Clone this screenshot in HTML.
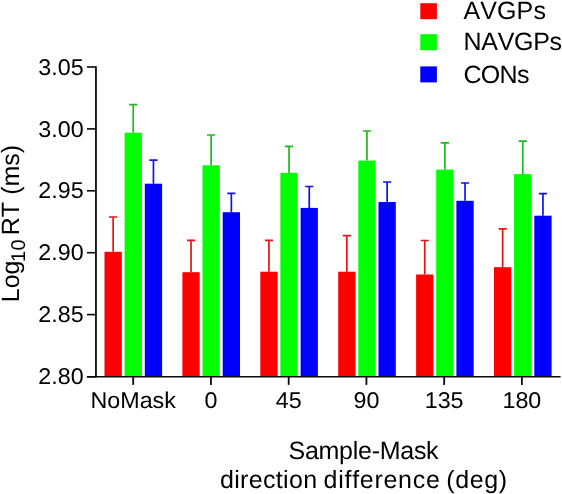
<!DOCTYPE html>
<html><head><meta charset="utf-8"><title>chart</title>
<style>
html,body{margin:0;padding:0;background:#fff;}
body{width:562px;height:494px;overflow:hidden;}
svg{display:block;will-change:transform;}
text{text-rendering:geometricPrecision;font-kerning:none;font-family:"Liberation Sans",sans-serif;fill:#000;}
</style></head><body>
<svg width="562" height="494" viewBox="0 0 562 494">
<rect width="562" height="494" fill="#fff"/>

<rect x="104.50" y="251.80" width="17.3" height="124.70" fill="#ff0000"/>
<path d="M113.15 251.80V217.00M109.05 217.00H117.25" stroke="#ec1216" stroke-width="1.7" fill="none"/>
<rect x="124.60" y="132.70" width="17.3" height="243.80" fill="#00ff00"/>
<path d="M133.25 132.70V104.60M129.15 104.60H137.35" stroke="#20b820" stroke-width="1.7" fill="none"/>
<rect x="144.80" y="183.70" width="17.3" height="192.80" fill="#0000ff"/>
<path d="M153.45 183.70V160.10M149.35 160.10H157.55" stroke="#1212e4" stroke-width="1.7" fill="none"/>
<rect x="182.40" y="272.20" width="17.3" height="104.30" fill="#ff0000"/>
<path d="M191.05 272.20V240.30M186.95 240.30H195.15" stroke="#ec1216" stroke-width="1.7" fill="none"/>
<rect x="202.50" y="165.30" width="17.3" height="211.20" fill="#00ff00"/>
<path d="M211.15 165.30V135.00M207.05 135.00H215.25" stroke="#20b820" stroke-width="1.7" fill="none"/>
<rect x="222.70" y="212.20" width="17.3" height="164.30" fill="#0000ff"/>
<path d="M231.35 212.20V193.30M227.25 193.30H235.45" stroke="#1212e4" stroke-width="1.7" fill="none"/>
<rect x="260.30" y="271.70" width="17.3" height="104.80" fill="#ff0000"/>
<path d="M268.95 271.70V240.40M264.85 240.40H273.05" stroke="#ec1216" stroke-width="1.7" fill="none"/>
<rect x="280.40" y="172.90" width="17.3" height="203.60" fill="#00ff00"/>
<path d="M289.05 172.90V146.40M284.95 146.40H293.15" stroke="#20b820" stroke-width="1.7" fill="none"/>
<rect x="300.60" y="207.90" width="17.3" height="168.60" fill="#0000ff"/>
<path d="M309.25 207.90V186.50M305.15 186.50H313.35" stroke="#1212e4" stroke-width="1.7" fill="none"/>
<rect x="338.20" y="271.70" width="17.3" height="104.80" fill="#ff0000"/>
<path d="M346.85 271.70V235.70M342.75 235.70H350.95" stroke="#ec1216" stroke-width="1.7" fill="none"/>
<rect x="358.30" y="160.60" width="17.3" height="215.90" fill="#00ff00"/>
<path d="M366.95 160.60V131.00M362.85 131.00H371.05" stroke="#20b820" stroke-width="1.7" fill="none"/>
<rect x="378.50" y="202.00" width="17.3" height="174.50" fill="#0000ff"/>
<path d="M387.15 202.00V182.00M383.05 182.00H391.25" stroke="#1212e4" stroke-width="1.7" fill="none"/>
<rect x="416.10" y="274.50" width="17.3" height="102.00" fill="#ff0000"/>
<path d="M424.75 274.50V240.50M420.65 240.50H428.85" stroke="#ec1216" stroke-width="1.7" fill="none"/>
<rect x="436.20" y="169.60" width="17.3" height="206.90" fill="#00ff00"/>
<path d="M444.85 169.60V142.90M440.75 142.90H448.95" stroke="#20b820" stroke-width="1.7" fill="none"/>
<rect x="456.40" y="200.80" width="17.3" height="175.70" fill="#0000ff"/>
<path d="M465.05 200.80V183.00M460.95 183.00H469.15" stroke="#1212e4" stroke-width="1.7" fill="none"/>
<rect x="494.00" y="267.20" width="17.3" height="109.30" fill="#ff0000"/>
<path d="M502.65 267.20V228.90M498.55 228.90H506.75" stroke="#ec1216" stroke-width="1.7" fill="none"/>
<rect x="514.10" y="174.10" width="17.3" height="202.40" fill="#00ff00"/>
<path d="M522.75 174.10V141.20M518.65 141.20H526.85" stroke="#20b820" stroke-width="1.7" fill="none"/>
<rect x="534.30" y="215.70" width="17.3" height="160.80" fill="#0000ff"/>
<path d="M542.95 215.70V193.70M538.85 193.70H547.05" stroke="#1212e4" stroke-width="1.7" fill="none"/>
<path d="M95.95 66.2V377.5" stroke="#0a0a0a" stroke-width="1.8" fill="none"/>
<path d="M86.9 376.8H560.6" stroke="#0a0a0a" stroke-width="1.6" fill="none"/>
<path d="M86.9 67.00H95.95" stroke="#0a0a0a" stroke-width="1.6"/>
<text x="83.6" y="75.00" font-size="22.8" text-anchor="end" textLength="45.34" lengthAdjust="spacingAndGlyphs">3.05</text>
<path d="M86.9 128.90H95.95" stroke="#0a0a0a" stroke-width="1.6"/>
<text x="83.6" y="136.70" font-size="22.8" text-anchor="end" textLength="45.34" lengthAdjust="spacingAndGlyphs">3.00</text>
<path d="M86.9 190.80H95.95" stroke="#0a0a0a" stroke-width="1.6"/>
<text x="83.6" y="198.40" font-size="22.8" text-anchor="end" textLength="45.34" lengthAdjust="spacingAndGlyphs">2.95</text>
<path d="M86.9 252.70H95.95" stroke="#0a0a0a" stroke-width="1.6"/>
<text x="83.6" y="260.10" font-size="22.8" text-anchor="end" textLength="45.34" lengthAdjust="spacingAndGlyphs">2.90</text>
<path d="M86.9 314.60H95.95" stroke="#0a0a0a" stroke-width="1.6"/>
<text x="83.6" y="321.80" font-size="22.8" text-anchor="end" textLength="45.34" lengthAdjust="spacingAndGlyphs">2.85</text>
<path d="M86.9 376.80H95.95" stroke="#0a0a0a" stroke-width="1.6"/>
<text x="83.6" y="383.50" font-size="22.8" text-anchor="end" textLength="45.34" lengthAdjust="spacingAndGlyphs">2.80</text>
<path d="M133.20 376.5V384.9" stroke="#0a0a0a" stroke-width="1.8"/>
<text x="133.20" y="408.2" font-size="22.8" text-anchor="middle" textLength="85.44" lengthAdjust="spacingAndGlyphs">NoMask</text>
<path d="M210.94 376.5V384.9" stroke="#0a0a0a" stroke-width="1.8"/>
<text x="210.94" y="408.2" font-size="22.8" text-anchor="middle" textLength="12.95" lengthAdjust="spacingAndGlyphs">0</text>
<path d="M288.68 376.5V384.9" stroke="#0a0a0a" stroke-width="1.8"/>
<text x="288.68" y="408.2" font-size="22.8" text-anchor="middle" textLength="25.91" lengthAdjust="spacingAndGlyphs">45</text>
<path d="M366.42 376.5V384.9" stroke="#0a0a0a" stroke-width="1.8"/>
<text x="366.42" y="408.2" font-size="22.8" text-anchor="middle" textLength="25.91" lengthAdjust="spacingAndGlyphs">90</text>
<path d="M444.16 376.5V384.9" stroke="#0a0a0a" stroke-width="1.8"/>
<text x="444.16" y="408.2" font-size="22.8" text-anchor="middle" textLength="38.86" lengthAdjust="spacingAndGlyphs">135</text>
<path d="M521.90 376.5V384.9" stroke="#0a0a0a" stroke-width="1.8"/>
<text x="521.90" y="408.2" font-size="22.8" text-anchor="middle" textLength="38.86" lengthAdjust="spacingAndGlyphs">180</text>
<text x="288.5" y="458.6" font-size="25" letter-spacing="-0.27">Sample-Mask</text>
<text x="220" y="487.8" font-size="25" letter-spacing="0.32">direction</text>
<text x="323.6" y="487.8" font-size="25" letter-spacing="0.72">difference</text>
<text x="446.3" y="487.8" font-size="25" letter-spacing="0.6">(deg)</text>
<text transform="translate(18.6 302.2) rotate(-90)" font-size="25"><tspan x="0" y="0">Log</tspan><tspan x="40.2" y="6.4" font-size="20">1</tspan><tspan x="51.8" y="6.4" font-size="20">0</tspan><tspan x="67" y="0">RT</tspan><tspan x="107.4" y="0">(ms)</tspan></text>
<rect x="420.3" y="3.2" width="16.6" height="16" fill="#ff0000"/>
<text x="463.5" y="19.2" font-size="25" textLength="82.4">AVGPs</text>
<rect x="420.3" y="34.2" width="16.6" height="16" fill="#00ff00"/>
<text x="463.5" y="50.4" font-size="25" textLength="98.6">NAVGPs</text>
<rect x="420.3" y="66.4" width="16.6" height="16" fill="#0000ff"/>
<text x="463.5" y="82.9" font-size="25" textLength="65.9">CONs</text>
</svg></body></html>
